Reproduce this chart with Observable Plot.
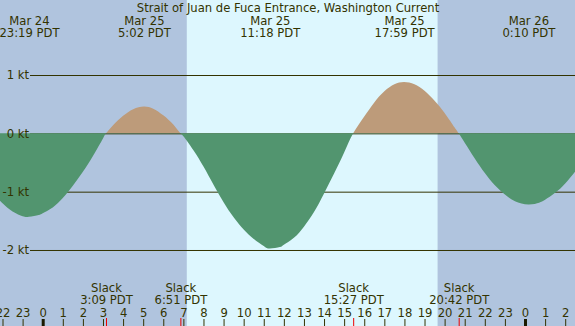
<!DOCTYPE html>
<html><head><meta charset="utf-8">
<script src="https://cdn.jsdelivr.net/npm/d3@7"></script>
<script src="https://cdn.jsdelivr.net/npm/@observablehq/plot@0.6"></script>
<style>html,body{margin:0;padding:0;background:#fff}</style>
</head><body><div id="chart"></div>
<script>
const title = "Strait of Juan de Fuca Entrance, Washington Current";

// current speed: hours since Mar 25 00:00 PDT, knots (+ flood / - ebb)
const flowHours = [-2.3, -2, -1.5, -1, -0.683, -0.2, 0, 0.5, 1, 1.5, 2, 2.5, 3, 3.15, 3.5, 4, 4.5, 5.033, 5.5, 6, 6.5, 6.85, 7, 7.5, 8, 8.5, 9, 9.5, 10, 10.5, 11, 11.3, 11.8, 12, 12.5, 13, 13.5, 14, 14.5, 15, 15.45, 16, 16.5, 17, 17.5, 17.983, 18.5, 19, 19.5, 20, 20.5, 20.7, 21, 21.5, 22, 22.5, 23, 23.5, 24.167, 24.7, 25, 25.5, 26, 26.6];
const flowKnots = [-1.09, -1.20, -1.34, -1.42, -1.43, -1.40, -1.37, -1.27, -1.11, -0.90, -0.66, -0.39, -0.09, 0, 0.14, 0.30, 0.415, 0.46, 0.423, 0.31, 0.15, 0, -0.05, -0.29, -0.57, -0.88, -1.18, -1.44, -1.65, -1.81, -1.93, -1.975, -1.95, -1.91, -1.79, -1.60, -1.35, -1.03, -0.69, -0.33, 0, 0.29, 0.53, 0.72, 0.84, 0.88, 0.84, 0.73, 0.56, 0.35, 0.10, 0, -0.16, -0.43, -0.68, -0.89, -1.05, -1.165, -1.22, -1.19, -1.14, -1.02, -0.86, -0.61];

// max flood / max ebb events (minutes since Mar 25 00:00 PDT)
const eventMinutes = [-41, 302, 678, 1079, 1450];
const eventDays = ["Mar 24", "Mar 25", "Mar 25", "Mar 25", "Mar 26"];
const eventClocks = ["23:19 PDT", "5:02 PDT", "11:18 PDT", "17:59 PDT", "0:10 PDT"];

// slack water
const slackMinutes = [189, 411, 927, 1242];
const slackClocks = ["3:09 PDT", "6:51 PDT", "15:27 PDT", "20:42 PDT"];

// daylight (hours): sunrise, sunset
const sunriseHour = 7.17;
const sunsetHour = 19.65;

// axis ticks
const hourTicks = [-2, -1, 0, 1, 2, 3, 4, 5, 6, 7, 8, 9, 10, 11, 12, 13, 14, 15, 16, 17, 18, 19, 20, 21, 22, 23, 24, 25, 26];
const knotTicks = [1, 0, -1, -2];

const flow = flowHours.map((t, i) => ({t, v: flowKnots[i]}));
const events = eventMinutes.map((m, i) => ({t: m / 60, label: eventDays[i] + "\n" + eventClocks[i]}));
const slacks = slackMinutes.map((m, i) => ({t: m / 60, label: "Slack\n" + slackClocks[i]}));

const ink = "#333300";
const W = 575, H = 326;

const chart = Plot.plot({
  width: W, height: H,
  margin: 0,
  x: {domain: [-2.125, 26.488], axis: null},
  y: {domain: [-3.303, 2.286], axis: null},
  style: {background: "#b0c4de", fontFamily: "DejaVu Sans", fontSize: "11.6px", color: ink, overflow: "hidden"},
  marks: [
    Plot.rect([{a: sunriseHour, b: sunsetHour}], {x1: "a", x2: "b", fill: "#ddf7fe"}),
    Plot.ruleY(knotTicks, {stroke: ink, strokeWidth: 1, insetLeft: 30}),
    Plot.areaY(flow, {x: "t", y: "v", curve: "natural", fill: "url(#flowfill)"}),
    Plot.text(knotTicks, {y: d => d, text: d => `${d} kt`, frameAnchor: "left", textAnchor: "end", dx: 28.5, fill: ink}),
    Plot.text([title], {text: d => d, frameAnchor: "top", lineAnchor: "bottom", dy: 11.5, fill: ink}),
    Plot.text(events, {x: "t", text: "label", frameAnchor: "top", lineAnchor: "bottom", dy: 36.5, lineHeight: 1.07, fill: ink}),
    Plot.text(slacks, {x: "t", text: "label", frameAnchor: "bottom", lineAnchor: "bottom", dy: -22.5, lineHeight: 1.05, fill: ink}),
    Plot.text(hourTicks, {x: d => d, text: d => String(((d % 24) + 24) % 24), frameAnchor: "bottom", lineAnchor: "bottom", dy: -10, fill: ink}),
    Plot.ruleX(hourTicks, {x: d => d, insetTop: 319, stroke: d => (d % 24 === 0 ? "#1a1a00" : ink), strokeWidth: d => (d % 24 === 0 ? 3 : 1)}),
    Plot.ruleX(slacks, {x: "t", insetTop: 318, stroke: "#ee0000", strokeWidth: 1})
  ]
});

// fill gradient: flood colour above 0 kt, ebb colour below
const y0 = chart.scale("y").apply(0);
const ns = "http://www.w3.org/2000/svg";
const defs = document.createElementNS(ns, "defs");
const grad = document.createElementNS(ns, "linearGradient");
grad.setAttribute("id", "flowfill");
grad.setAttribute("gradientUnits", "userSpaceOnUse");
grad.setAttribute("x1", 0); grad.setAttribute("y1", 0);
grad.setAttribute("x2", 0); grad.setAttribute("y2", H);
[[y0 / H, "#bd9b7a"], [y0 / H, "#52956f"]].forEach(([o, c]) => {
  const s = document.createElementNS(ns, "stop");
  s.setAttribute("offset", o);
  s.setAttribute("stop-color", c);
  grad.appendChild(s);
});
defs.appendChild(grad);
chart.insertBefore(defs, chart.firstChild);
document.getElementById("chart").appendChild(chart);
</script>
</body></html>
